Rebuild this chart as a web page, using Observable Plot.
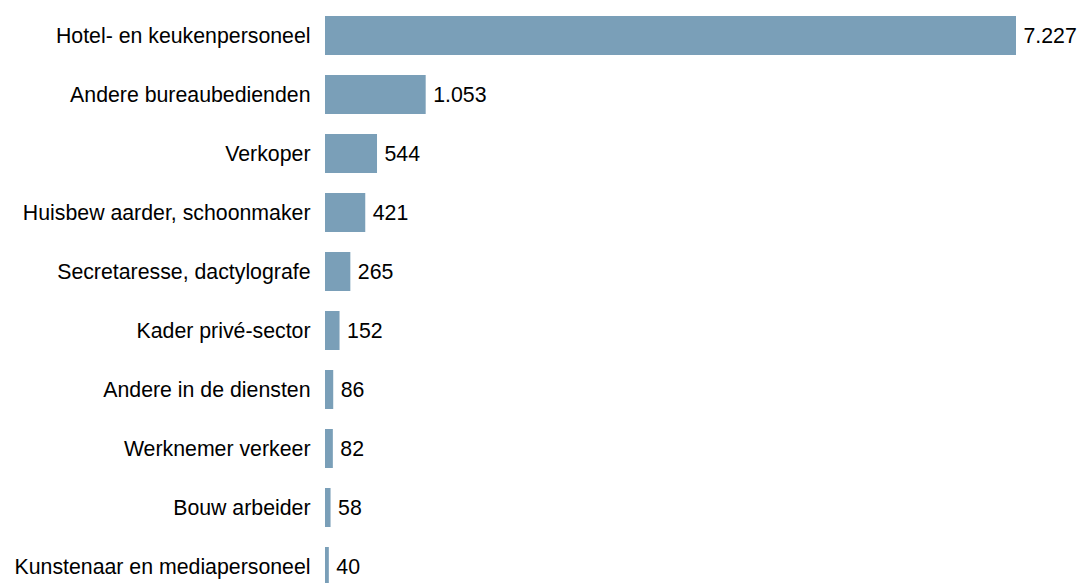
<!DOCTYPE html>
<html>
<head>
<meta charset="utf-8">
<script src="https://cdn.jsdelivr.net/npm/d3@7"></script>
<script src="https://cdn.jsdelivr.net/npm/@observablehq/plot@0.6"></script>
<style>
  html, body { margin: 0; padding: 0; background: #fff; }
  #chart svg { display: block; }
</style>
</head>
<body>
<div id="chart"></div>
<script>
const categories = [
  "Hotel- en keukenpersoneel",
  "Andere bureaubedienden",
  "Verkoper",
  "Huisbew aarder, schoonmaker",
  "Secretaresse, dactylografe",
  "Kader privé-sector",
  "Andere in de diensten",
  "Werknemer verkeer",
  "Bouw arbeider",
  "Kunstenaar en mediapersoneel"
];
const values = [7227, 1053, 544, 421, 265, 152, 86, 82, 58, 40];

const data = categories.map((c, i) => ({category: c, value: values[i]}));
const nl = d3.formatLocale({decimal: ",", thousands: ".", grouping: [3], currency: ["", ""]});
const fmt = nl.format(",d");

const chart = Plot.plot({
  width: 1077,
  height: 583,
  marginLeft: 325,
  marginRight: 0,
  marginTop: 0,
  marginBottom: 0,
  style: {fontFamily: "Liberation Sans, Arial, sans-serif", fontSize: "21px", color: "#000", background: "#fff"},
  x: {domain: [0, 7227], range: [325, 1016], axis: null},
  y: {domain: categories, range: [12.7, 588.5], paddingInner: 0.345, paddingOuter: 0, label: null},
  marks: [
    Plot.barX(data, {x: "value", y: "category", fill: "#7a9fb8"}),
    Plot.text(data, {x: "value", y: "category", text: d => fmt(d.value), textAnchor: "start", dx: 7, fill: "#000", fontSize: 21.3}),
    Plot.axisY({tickSize: 0, tickPadding: 15, fontSize: 21.3, label: null, textOverflow: null, lineWidth: Infinity})
  ]
});
document.getElementById("chart").appendChild(chart);
</script>
</body>
</html>
